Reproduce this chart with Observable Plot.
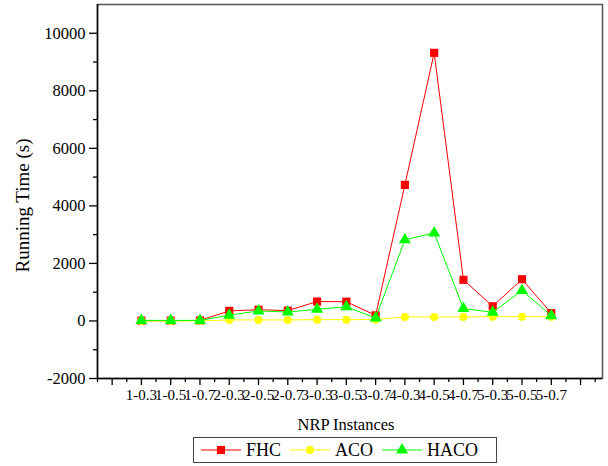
<!DOCTYPE html>
<html>
<head>
<meta charset="utf-8">
<script src="https://cdn.jsdelivr.net/npm/d3@7"></script>
<script src="https://cdn.jsdelivr.net/npm/@observablehq/plot@0.6"></script>
<style>
  body { margin: 0; background: #fff; font-family: "Liberation Serif", serif; }
  #chart svg { display: block; }
  .legend { margin: 3px 0 0 193px; width: 304px; height: 26px; box-sizing: border-box;
    border: 1.5px solid #444; display: flex; align-items: center; padding-left: 7px;
    font-family: "Liberation Serif", serif; font-size: 18px; color: #000; }
  .legend .item { display: flex; align-items: center; margin-right: 9px; }
  .legend svg { display: block; margin-right: 5px; }
</style>
</head>
<body>
<div id="chart"></div>
<div class="legend" id="legend"></div>
<script>
const categories = ["1-0.3","1-0.5","1-0.7","2-0.3","2-0.5","2-0.7","3-0.3","3-0.5","3-0.7","4-0.3","4-0.5","4-0.7","5-0.3","5-0.5","5-0.7"];
const fhc  = [10, 10, 20, 350, 390, 360, 675, 670, 195, 4730, 9320, 1430, 510, 1450, 270];
const aco  = [0, 0, 0, 35, 35, 35, 45, 45, 50, 140, 140, 140, 150, 150, 150];
const haco = [20, 20, 20, 200, 350, 310, 405, 490, 105, 2820, 3060, 430, 300, 1060, 185];
const seriesNames = ["FHC", "ACO", "HACO"];
const seriesColors = ["#ff0000", "#ffff00", "#00ff00"];
const seriesSymbols = ["square", "circle", "triangle"];
const seriesR = [4.6, 4, 4.5];
const yMajor = [-2000, 0, 2000, 4000, 6000, 8000, 10000];
const yMinor = [-1000, 1000, 3000, 5000, 7000, 9000];
const xTitle = "NRP Instances";
const yTitle = "Running Time (s)";

const values = [fhc, aco, haco];
const rows = [];
values.forEach((arr, s) => arr.forEach((v, i) => rows.push({i, cat: categories[i], value: v, series: seriesNames[s]})));

const xMajor = d3.range(-1, 16);
const xMinor = d3.range(-1.5, 16, 1);
const FONT = "Liberation Serif";

const marks = [
  Plot.frame({stroke: "#555", strokeWidth: 1.5}),
  Plot.ruleX([-1.5], {stroke: "#000", strokeWidth: 1.5}),
  Plot.ruleY([-2000], {stroke: "#000", strokeWidth: 1.5}),
  Plot.axisX(xMinor, {tickSize: 4, tickFormat: () => "", label: null, strokeWidth: 1.3}),
  Plot.axisX(xMajor, {tickSize: 7, tickPadding: 4, tickFormat: d => categories[d] ?? "", fontSize: 15, fontFamily: FONT,
    label: null, strokeWidth: 1.3}),
  Plot.axisY(yMinor, {tickSize: 4, tickFormat: () => "", label: null, strokeWidth: 1.3}),
  Plot.axisY(yMajor, {tickSize: 8, tickPadding: 4, fontSize: 16.5, fontFamily: FONT, tickFormat: d => String(d),
    label: null, strokeWidth: 1.3}),
  Plot.text([xTitle], {frameAnchor: "bottom", dx: -4, dy: 46, textAnchor: "middle", lineAnchor: "middle", fontSize: 16.5, fontFamily: FONT, fill: "#000"}),
  Plot.text([yTitle], {frameAnchor: "left", dx: -75, dy: 14, rotate: -90, textAnchor: "middle", lineAnchor: "middle", fontSize: 19, fontFamily: FONT, fill: "#000"})
];
seriesNames.forEach((name, s) => {
  const data = rows.filter(r => r.series === name);
  marks.push(Plot.line(data, {x: "i", y: "value", stroke: seriesColors[s], strokeWidth: 1}));
  marks.push(Plot.dot(data, {x: "i", y: "value", symbol: () => seriesSymbols[s], fill: seriesColors[s], stroke: "none", r: seriesR[s]}));
});

const chart = Plot.plot({
  width: 608,
  height: 434,
  marginLeft: 97,
  marginRight: 6,
  marginTop: 4,
  marginBottom: 56,
  style: {fontFamily: FONT, fontSize: "16px", color: "#000", background: "#fff"},
  x: {type: "linear", domain: [-1.5, 15.75]},
  y: {domain: [-2000, 11000]},
  marks
});
document.getElementById("chart").appendChild(chart);

// legend
const legend = document.getElementById("legend");
seriesNames.forEach((name, s) => {
  const item = document.createElement("div");
  item.className = "item";
  const sym = d3.symbol(s === 0 ? d3.symbolSquare : s === 1 ? d3.symbolCircle : d3.symbolTriangle, Math.PI * seriesR[s] * seriesR[s])();
  item.innerHTML = `<svg width="40" height="14" viewBox="0 0 40 14"><line x1="0" x2="40" y1="7" y2="7" stroke="${seriesColors[s]}" stroke-width="1"/><path transform="translate(20,7)" d="${sym}" fill="${seriesColors[s]}"/></svg><span>${name}</span>`;
  legend.appendChild(item);
});
</script>
</body>
</html>
